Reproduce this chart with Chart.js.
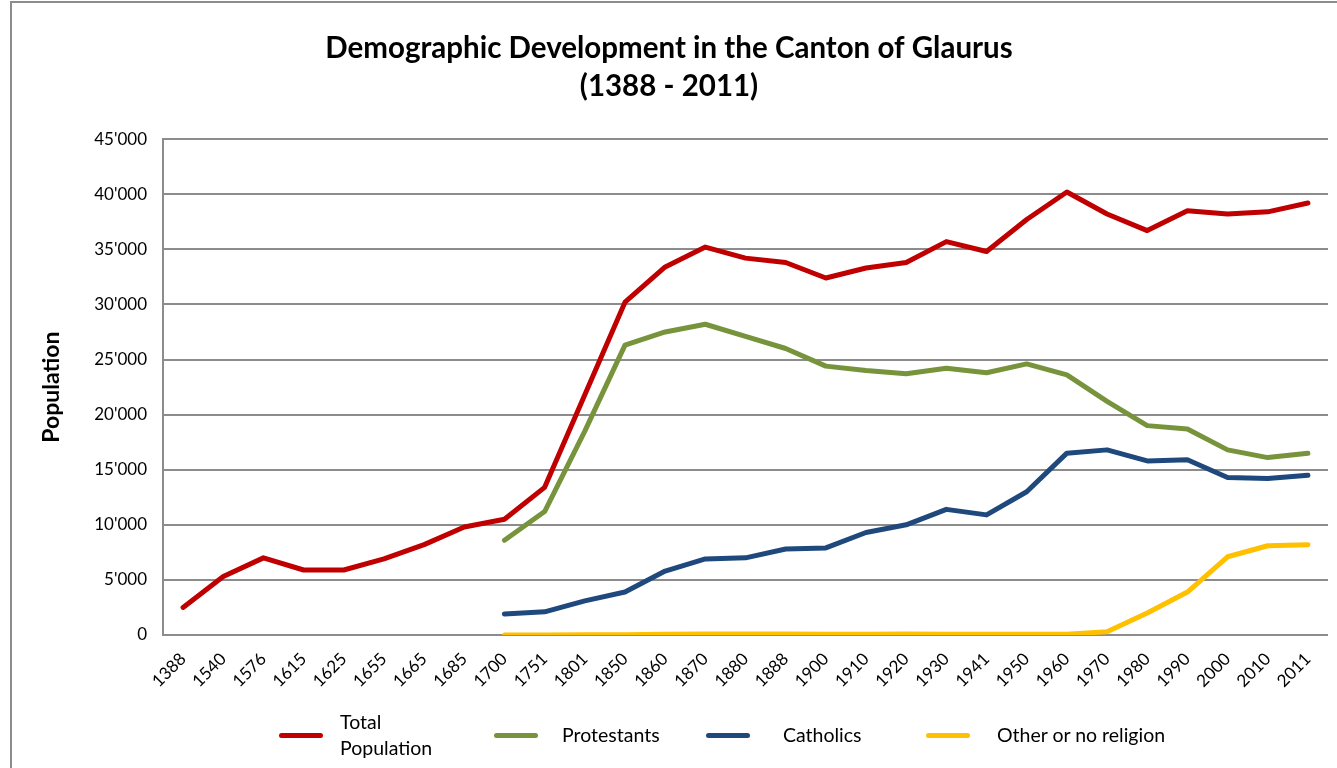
<!DOCTYPE html>
<html>
<head>
<meta charset="utf-8">
<title>Demographic Development in the Canton of Glaurus</title>
<script src="https://cdn.jsdelivr.net/npm/chart.js@4/dist/chart.umd.min.js"></script>
<style>
    html, body { margin: 0; padding: 0; background: #fff; }
    #wrap { position: relative; width: 1337px; height: 768px; overflow: hidden; }
    #frame { position: absolute; left: 10px; top: 1px; right: -5px; bottom: -5px;
             border-left: 2px solid #8c8c8c; border-top: 2px solid #8c8c8c; pointer-events: none; }
    #legend { position: absolute; left: 0; top: 702px; width: 1337px; height: 66px;
              font-family: Lato, "Open Sans", sans-serif; font-size: 19.5px; color: #000; }
    .swatch { position: absolute; top: 31px; width: 44px; height: 5px; border-radius: 3px; }
    .label { position: absolute; top: 0; height: 66px; display: flex; align-items: center; line-height: 26px; }
</style>
</head>
<body>
<div id="wrap">
    <canvas id="demo-chart" width="1337" height="768"></canvas>
    <div id="frame"></div>
    <div id="legend"></div>
</div>
<script>
// Census years (category axis)
const years = ['1388', '1540', '1576', '1615', '1625', '1655', '1665', '1685', '1700', '1751',
    '1801', '1850', '1860', '1870', '1880', '1888', '1900', '1910', '1920', '1930',
    '1941', '1950', '1960', '1970', '1980', '1990', '2000', '2010', '2011'];

// Series values
const totalPopulation = [2500, 5300, 7000, 5900, 5900, 6900, 8200, 9800, 10500, 13400,
    21800, 30200, 33400, 35200, 34200, 33800, 32400, 33300, 33800, 35700,
    34800, 37700, 40200, 38200, 36700, 38500, 38200, 38400, 39200];
const protestants = [null, null, null, null, null, null, null, null, 8600, 11200,
    18500, 26300, 27500, 28200, 27100, 26000, 24400, 24000, 23700, 24200,
    23800, 24600, 23600, 21200, 19000, 18700, 16800, 16100, 16500];
const catholics = [null, null, null, null, null, null, null, null, 1900, 2100,
    3100, 3900, 5800, 6900, 7000, 7800, 7900, 9300, 10000, 11400,
    10900, 13000, 16500, 16800, 15800, 15900, 14300, 14200, 14500];
const otherReligion = [null, null, null, null, null, null, null, null, 0, 10,
    20, 30, 60, 90, 90, 80, 60, 60, 100, 70,
    60, 60, 60, 300, 2000, 3900, 7100, 8100, 8200];

const seriesNames = [['Total', 'Population'], ['Protestants'], ['Catholics'], ['Other or no religion']];
const seriesColors = ['#C00000', '#77933C', '#1F497D', '#FFC000'];

// y-axis ticks: 0 .. 45'000
const yMax = 45000;
const yStep = 5000;

const fontFamily = 'Lato, "Open Sans", sans-serif';
const gridColor = '#8c8c8c';

function formatThousands(v) {
    return String(v).replace(/\B(?=(\d{3})+(?!\d))/g, "'");
}

function makeDataset(i, values) {
    return {
        label: seriesNames[i].join(' '),
        data: values,
        borderColor: seriesColors[i],
        backgroundColor: seriesColors[i],
        borderWidth: 5,
        borderCapStyle: 'round',
        borderJoinStyle: 'round',
        pointRadius: 0,
        tension: 0,
        spanGaps: false
    };
}

const ctx = document.getElementById('demo-chart');
const chart = new Chart(ctx, {
    type: 'line',
    data: {
        labels: years,
        datasets: [
            makeDataset(0, totalPopulation),
            makeDataset(1, protestants),
            makeDataset(2, catholics),
            makeDataset(3, otherReligion)
        ]
    },
    options: {
        responsive: false,
        animation: false,
        layout: { padding: { left: 10, right: 9, top: 0, bottom: 0 } },
        plugins: {
            legend: { display: false },
            tooltip: { enabled: false },
            title: {
                display: true,
                text: ['Demographic Development in the Canton of Glaurus', '(1388 - 2011)'],
                color: '#000',
                font: { family: fontFamily, size: 29.5, weight: 'bold', lineHeight: 1.29 },
                padding: { top: 29, bottom: 34 }
            }
        },
        scales: {
            x: {
                offset: true,
                grid: { display: false },
                border: { display: false },
                ticks: {
                    color: '#000',
                    font: { family: fontFamily, size: 17 },
                    minRotation: 45,
                    maxRotation: 45,
                    autoSkip: false,
                    padding: 6
                },
                afterFit: (scale) => { scale.height = 133; }
            },
            y: {
                min: 0,
                max: yMax,
                grid: { color: gridColor, lineWidth: 2, drawTicks: false },
                border: { display: true, color: gridColor, width: 2 },
                ticks: {
                    stepSize: yStep,
                    color: '#000',
                    font: { family: fontFamily, size: 17 },
                    padding: 16,
                    callback: (v) => formatThousands(v)
                },
                title: {
                    display: true,
                    text: 'Population',
                    color: '#000',
                    font: { family: fontFamily, size: 23, weight: 'bold' },
                    padding: { top: 28, bottom: 0 }
                },
                afterFit: (scale) => { scale.width = 153; }
            }
        }
    }
});

// HTML legend (allows the two-line "Total Population" entry)
const swatchLeft = [279, 494, 706, 926];
const labelLeft = [340, 562, 783, 997];
const legend = document.getElementById('legend');
chart.data.datasets.forEach((ds, i) => {
    const swatch = document.createElement('div');
    swatch.className = 'swatch';
    swatch.style.left = swatchLeft[i] + 'px';
    swatch.style.background = seriesColors[i];
    const label = document.createElement('div');
    label.className = 'label';
    label.style.left = labelLeft[i] + 'px';
    label.innerHTML = seriesNames[i].join('<br>');
    legend.appendChild(swatch);
    legend.appendChild(label);
});
</script>
</body>
</html>
